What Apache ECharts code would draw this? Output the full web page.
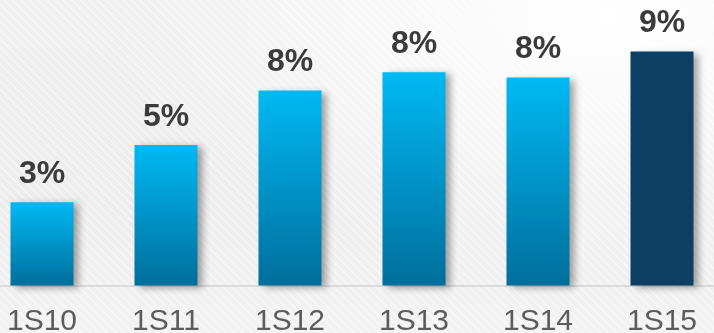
<!DOCTYPE html>
<html>
<head>
<meta charset="utf-8">
<script src="https://cdn.jsdelivr.net/npm/echarts@6/dist/echarts.min.js"></script>
<style>
  html, body { margin: 0; padding: 0; }
  body {
    position: relative;
    width: 714px; height: 333px; overflow: hidden;
    background:
      repeating-linear-gradient(45deg, rgba(255,255,255,0) 0px, rgba(255,255,255,0) 3px, rgba(255,255,255,0.55) 4px, rgba(255,255,255,0) 6px),
      radial-gradient(ellipse 70% 80% at 85% 5%, #ffffff 0%, rgba(255,255,255,0) 100%),
      linear-gradient(180deg, #efefef 0%, #ececec 60%, #f2f2f2 100%);
  }
  /* plot is a little wider than the page so the outer bars sit near the edges */
  #chart { position: absolute; left: -20px; top: 0; width: 744px; height: 333px; }
</style>
</head>
<body>
<div id="chart"></div>
<script>
// Half-year periods and their rates (%)
const periods = ['1S10', '1S11', '1S12', '1S13', '1S14', '1S15'];
const rates = [3.2, 5.4, 7.5, 8.2, 8.0, 9.0];
const highlightIndex = 5;

const chart = echarts.init(document.getElementById('chart'), null, { renderer: 'canvas' });

const blueFill = new echarts.graphic.LinearGradient(0, 0, 0, 1, [
  { offset: 0, color: '#00b9f4' },
  { offset: 1, color: '#006e9c' }
]);

chart.setOption({
  backgroundColor: 'transparent',
  animation: false,
  grid: { left: 0, right: 0, top: 12.5, bottom: 47.5, outerBoundsMode: 'none', containLabel: false },
  xAxis: {
    type: 'category',
    data: periods,
    axisLine: { show: true, lineStyle: { color: '#d2d2d2', width: 1.5 } },
    axisTick: { show: false },
    axisLabel: {
      color: '#5c5c5c',
      fontFamily: 'Liberation Sans, Arial, sans-serif',
      fontSize: 30,
      margin: 21
    }
  },
  yAxis: {
    type: 'value',
    min: 0,
    max: 10.5,
    show: false,
    splitLine: { show: false }
  },
  series: [{
    type: 'bar',
    barWidth: 63,
    data: rates.map((v, i) => ({
      value: v,
      itemStyle: { color: i === highlightIndex ? '#0d3f64' : blueFill }
    })),
    itemStyle: {
      shadowColor: 'rgba(0,0,0,0.35)',
      shadowBlur: 7,
      shadowOffsetX: 5,
      shadowOffsetY: 2
    },
    label: {
      show: true,
      position: 'top',
      distance: 12,
      color: '#3b3b3b',
      fontFamily: 'Liberation Sans, Arial, sans-serif',
      fontWeight: 'bold',
      fontSize: 32,
      formatter: p => Math.round(p.value) + '%'
    }
  }]
});
</script>
</body>
</html>
